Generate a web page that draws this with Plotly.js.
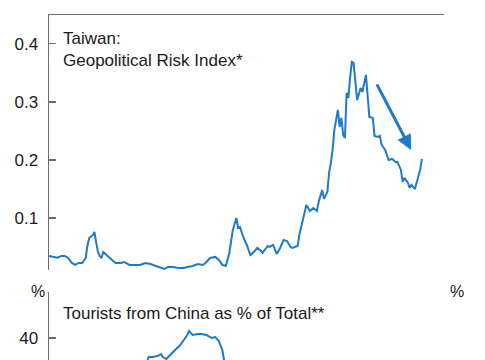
<!DOCTYPE html>
<html>
<head>
<meta charset="utf-8">
<script src="https://cdn.plot.ly/plotly-3.0.1.min.js"></script>
<style>
html,body{margin:0;padding:0;background:#fff;overflow:hidden;width:485px;height:360px;}
#chart{width:485px;height:600px;}
</style>
</head>
<body>
<div id="chart"></div>
<script>
// Geopolitical risk index (Taiwan), monthly readings
const gprDates = ['2008-01','2008-04','2008-06','2008-08','2008-10','2008-12','2009-02','2009-04','2009-06','2009-08','2009-10','2009-11','2009-12','2010-02','2010-03','2010-04','2010-05','2010-06','2010-07','2010-08','2010-10','2010-12','2011-03','2011-06','2011-08','2011-11','2012-02','2012-05','2012-08','2012-11','2013-02','2013-04','2013-07','2013-09','2013-12','2014-03','2014-06','2014-08','2014-11','2015-02','2015-05','2015-07','2015-09','2015-12','2016-02','2016-04','2016-06','2016-08','2016-10','2016-12','2017-01','2017-02','2017-04','2017-06','2017-08','2017-10','2017-12','2018-02','2018-03','2018-06','2018-07','2018-09','2018-11','2019-01','2019-03','2019-05','2019-07','2019-08','2019-11','2019-12','2020-02','2020-04','2020-06','2020-08','2020-10','2020-11','2021-01','2021-02','2021-04','2021-05','2021-06','2021-07','2021-08','2021-10','2021-11','2021-12','2022-01','2022-02','2022-03','2022-04','2022-05','2022-06','2022-07','2022-09','2022-11','2022-12','2023-02','2023-03','2023-04','2023-06','2023-07','2023-09','2023-10','2023-11','2024-01','2024-03','2024-05','2024-07','2024-08','2024-10','2024-11','2024-12','2025-02','2025-03','2025-04','2025-06','2025-07','2025-08','2025-09','2025-10'];
const gprValues = [0.0345,0.0333,0.0316,0.0345,0.0345,0.031,0.0224,0.019,0.0224,0.0224,0.031,0.0534,0.0655,0.0707,0.0759,0.0569,0.0414,0.0345,0.031,0.0414,0.0362,0.031,0.0224,0.0224,0.0241,0.019,0.019,0.019,0.0224,0.0207,0.0172,0.0155,0.0121,0.0155,0.0155,0.0138,0.0138,0.0155,0.0172,0.0207,0.019,0.0241,0.031,0.0328,0.0276,0.019,0.0172,0.0397,0.0793,0.1,0.0828,0.0845,0.0672,0.0534,0.0362,0.0414,0.0483,0.0431,0.0397,0.0517,0.05,0.0534,0.0379,0.0483,0.0621,0.0603,0.05,0.0483,0.0517,0.0707,0.0966,0.1224,0.112,0.1172,0.112,0.1276,0.1483,0.1328,0.1448,0.1776,0.1948,0.2172,0.2517,0.2862,0.2569,0.2724,0.2431,0.2379,0.3155,0.3069,0.3414,0.369,0.3672,0.3034,0.3241,0.3172,0.3466,0.3155,0.2741,0.2724,0.2414,0.2397,0.2414,0.2259,0.2172,0.2,0.2017,0.1966,0.1966,0.1828,0.1621,0.169,0.1603,0.1517,0.1569,0.15,0.1621,0.1707,0.1828,0.2017];

// Tourists from China as % of total
const tourDates = ['2012-06','2012-09','2012-10','2012-12','2013-03','2013-05','2013-06','2013-08','2013-10','2014-01','2014-04','2014-06','2014-08','2014-09','2014-11','2015-02','2015-04','2015-07','2015-10','2015-12','2016-02','2016-04','2016-05','2016-07'];
const tourValues = [33.0,35.6,36.2,36.2,36.4,36.8,36.2,35.8,36.6,37.6,38.6,39.6,40.6,41.4,40.6,40.8,40.8,40.6,40.0,40.2,39.4,37.6,35.6,30.0];

// Tick labels
const topTicks = [0.1,0.2,0.3,0.4];
const bottomTicks = [40];

// Trend arrow (start, end)
const arrowDates = ['2023-07-28','2025-03-27'];
const arrowValues = [0.3328,0.2172];

const titleTop = 'Taiwan:<br>Geopolitical Risk Index*';
const titleBottom = 'Tourists from China as % of Total**';
const unitLabel = '%';

const FONT = '"Liberation Sans", Arial, sans-serif';
const BLUE = '#1f7bc6';
const AX = '#6e6e6e';
const TXT = '#1a1a1a';

const yCommon = {
  showgrid:false, zeroline:false, showline:true, linecolor:AX, linewidth:1.5,
  ticks:'inside', ticklen:7, tickwidth:1.2, tickcolor:AX,
  tickfont:{family:FONT, size:17, color:TXT}, ticklabelstandoff:6
};

const traces = [
  {x:gprDates, y:gprValues, xaxis:'x', yaxis:'y', type:'scatter', mode:'lines',
   line:{color:BLUE, width:2}, hoverinfo:'skip'},
  {x:tourDates, y:tourValues, xaxis:'x2', yaxis:'y2', type:'scatter', mode:'lines',
   line:{color:BLUE, width:2}, hoverinfo:'skip'}
];

const layout = {
  width:485, height:600,
  margin:{l:49, r:41, t:15, b:53},
  paper_bgcolor:'#fff', plot_bgcolor:'rgba(0,0,0,0)',
  showlegend:false,
  font:{family:FONT, color:TXT},
  xaxis:{anchor:'y', side:'top', range:['2008-01-01','2026-10-20'], showline:true, linecolor:AX, linewidth:1.5,
         showgrid:false, zeroline:false, showticklabels:false, ticks:''},
  xaxis2:{anchor:'y2', matches:'x', showline:false, showgrid:false, zeroline:false, showticklabels:false, ticks:''},
  yaxis:Object.assign({}, yCommon, {domain:[0.5207,1], range:[0.0103,0.4498], tickvals:topTicks, side:'left', anchor:'x'}),
  yaxis3:Object.assign({}, yCommon, {overlaying:'y', range:[0.0103,0.4498], tickvals:topTicks, side:'right', anchor:'x'}),
  yaxis2:Object.assign({}, yCommon, {domain:[0,0.4793], range:[-1.8,49.2], tickvals:bottomTicks, side:'left', anchor:'x2'}),
  yaxis4:Object.assign({}, yCommon, {overlaying:'y2', range:[-1.8,49.2], tickvals:bottomTicks, side:'right', anchor:'x2'}),
  annotations:[
    {xref:'paper', yref:'paper', x:0.031, y:0.9774, xanchor:'left', yanchor:'top', align:'left', showarrow:false,
     text:titleTop, font:{family:FONT, size:17, color:TXT}},
    {xref:'paper', yref:'paper', x:0.031, y:0.4605, xanchor:'left', yanchor:'top', align:'left', showarrow:false,
     text:titleBottom, font:{family:FONT, size:17, color:TXT}},
    {xref:'paper', yref:'paper', x:-0.0291, y:0.4812, xanchor:'center', yanchor:'middle', showarrow:false,
     text:unitLabel, font:{family:FONT, size:16, color:TXT}},
    {xref:'paper', yref:'paper', x:1.0319, y:0.4812, xanchor:'center', yanchor:'middle', showarrow:false,
     text:unitLabel, font:{family:FONT, size:16, color:TXT}},
    {xref:'x', yref:'y', axref:'x', ayref:'y', x:arrowDates[1], y:arrowValues[1], ax:arrowDates[0], ay:arrowValues[0],
     text:'', showarrow:true, arrowhead:2, arrowsize:1, arrowwidth:3, arrowcolor:BLUE, standoff:0, startstandoff:0}
  ]
};

Plotly.newPlot('chart', traces, layout, {displayModeBar:false, staticPlot:true});
</script>
</body>
</html>
